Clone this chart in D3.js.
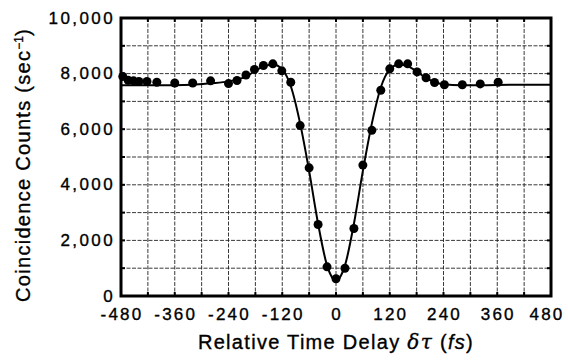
<!DOCTYPE html>
<html>
<head>
<meta charset="utf-8">
<script src="https://cdn.jsdelivr.net/npm/d3@7"></script>
<style>
  body { margin: 0; background: #fff; }
  text { font-family: "Liberation Sans", Arial, Helvetica, sans-serif; fill: #000; stroke: #000; stroke-width: 0.35px; }
</style>
</head>
<body>
<svg id="chart" width="568" height="361"></svg>
<script>
// measured points (delay in fs, coincidence counts per sec)
const pointDelay = [-476, -464, -452, -440, -422, -400, -360, -320, -280, -240, -221, -201, -182, -162, -141, -121, -101, -80, -60, -40, -20, 0, 20, 40, 60, 80, 100, 120, 140, 160, 181, 201, 220, 242, 282, 322, 362];
const pointCounts = [7900, 7760, 7740, 7720, 7720, 7690, 7660, 7660, 7740, 7640, 7750, 7950, 8150, 8290, 8350, 8100, 7690, 6130, 4610, 2570, 1050, 620, 1000, 2430, 4710, 5960, 7400, 8170, 8350, 8350, 8060, 7850, 7680, 7600, 7600, 7630, 7690];

// fitted curve
const curveDelay = [-480, -400, -320, -280, -240, -200, -180, -160, -140, -120, -100, -80, -60, -40, -20, 0, 20, 40, 60, 80, 100, 120, 140, 160, 180, 200, 220, 240, 280, 320, 400, 480];
const curveCounts = [7580, 7580, 7600, 7650, 7720, 7900, 8100, 8270, 8330, 8150, 7500, 6200, 4500, 2600, 1100, 550, 1100, 2600, 4500, 6200, 7500, 8150, 8330, 8270, 8080, 7850, 7700, 7620, 7580, 7580, 7600, 7600];

const xTicks = [-480, -360, -240, -120, 0, 120, 240, 360, 480];
const yTicks = [0, 2000, 4000, 6000, 8000, 10000];
const xGrid = [-420, -360, -300, -240, -180, -120, -60, 0, 60, 120, 180, 240, 300, 360, 420];
const yGrid = [1000, 2000, 3000, 4000, 5000, 6000, 7000, 8000, 9000];

const frame = {left: 121, right: 551, top: 18, bottom: 296};

let svg = d3.select("svg#chart");

let x = d3.scaleLinear().domain([-480, 480]).range([frame.left, frame.right]);
let y = d3.scaleLinear().domain([0, 10000]).range([frame.bottom, frame.top]);

// grid
svg.append("g").selectAll("line")
  .data(xGrid)
  .enter()
  .append("line")
  .attr("x1", function(d) { return x(d); })
  .attr("x2", function(d) { return x(d); })
  .attr("y1", frame.top)
  .attr("y2", frame.bottom)
  .attr("stroke", "#222")
  .attr("stroke-width", 0.9)
  .attr("stroke-dasharray", "4,1.5");

svg.append("g").selectAll("line")
  .data(yGrid)
  .enter()
  .append("line")
  .attr("x1", frame.left)
  .attr("x2", frame.right)
  .attr("y1", function(d) { return y(d); })
  .attr("y2", function(d) { return y(d); })
  .attr("stroke", "#222")
  .attr("stroke-width", 0.9)
  .attr("stroke-dasharray", "4,1.5");

// inward tick marks on all four sides
let tickX = svg.append("g");
tickX.selectAll(".tb")
  .data(xGrid)
  .enter()
  .append("line")
  .attr("x1", function(d) { return x(d); })
  .attr("x2", function(d) { return x(d); })
  .attr("y1", frame.bottom)
  .attr("y2", frame.bottom - 4)
  .attr("stroke", "#000")
  .attr("stroke-width", 2);
tickX.selectAll(".tt")
  .data(xGrid)
  .enter()
  .append("line")
  .attr("x1", function(d) { return x(d); })
  .attr("x2", function(d) { return x(d); })
  .attr("y1", frame.top)
  .attr("y2", frame.top + 4)
  .attr("stroke", "#000")
  .attr("stroke-width", 2);
let tickY = svg.append("g");
tickY.selectAll(".tl")
  .data(yGrid)
  .enter()
  .append("line")
  .attr("x1", frame.left)
  .attr("x2", frame.left + 4)
  .attr("y1", function(d) { return y(d); })
  .attr("y2", function(d) { return y(d); })
  .attr("stroke", "#000")
  .attr("stroke-width", 2);
tickY.selectAll(".tr")
  .data(yGrid)
  .enter()
  .append("line")
  .attr("x1", frame.right)
  .attr("x2", frame.right - 4)
  .attr("y1", function(d) { return y(d); })
  .attr("y2", function(d) { return y(d); })
  .attr("stroke", "#000")
  .attr("stroke-width", 2);

// frame
svg.append("rect")
  .attr("x", frame.left)
  .attr("y", frame.top)
  .attr("width", frame.right - frame.left)
  .attr("height", frame.bottom - frame.top)
  .attr("fill", "none")
  .attr("stroke", "#000")
  .attr("stroke-width", 3);

// tick labels (last one nudged in so it stays on the page)
svg.append("g").selectAll("text")
  .data(xTicks)
  .enter()
  .append("text")
  .attr("x", function(d) { return Math.min(x(d) + 1, 547); })
  .attr("y", frame.bottom + 24)
  .attr("text-anchor", "middle")
  .style("font-size", "17px")
  .style("letter-spacing", "2.2px")
  .text(function(d) { return d; });

svg.append("g").selectAll("text")
  .data(yTicks)
  .enter()
  .append("text")
  .attr("x", frame.left - 6)
  .attr("y", function(d) { return y(d) + 5.5; })
  .attr("text-anchor", "end")
  .style("font-size", "17px")
  .style("letter-spacing", "2.4px")
  .text(function(d) { return d3.format(",")(d); });

// fitted curve
let line = d3.line()
  .x(function(d, i) { return x(curveDelay[i]); })
  .y(function(d) { return y(d); })
  .curve(d3.curveMonotoneX);

svg.append("path")
  .datum(curveCounts)
  .attr("d", line)
  .attr("fill", "none")
  .attr("stroke", "#000")
  .attr("stroke-width", 2);

// measured points
svg.append("g").selectAll("circle")
  .data(pointCounts)
  .enter()
  .append("circle")
  .attr("cx", function(d, i) { return x(pointDelay[i]); })
  .attr("cy", function(d) { return y(d); })
  .attr("r", 4.5)
  .attr("fill", "#000");

// axis titles
let xt = svg.append("text")
  .attr("x", 336)
  .attr("y", 349)
  .attr("text-anchor", "middle")
  .style("font-size", "20px")
  .style("letter-spacing", "1.3px");
xt.append("tspan").text("Relative Time Delay ");
xt.append("tspan").style("font-style", "italic").style("font-family", "'DejaVu Serif', serif").text("δτ");
xt.append("tspan").text(" (");
xt.append("tspan").style("font-style", "italic").text("fs");
xt.append("tspan").text(")");

let yt = svg.append("text")
  .attr("transform", "translate(30," + 165 + ")rotate(-90)")
  .attr("text-anchor", "middle")
  .style("font-size", "20px")
  .style("letter-spacing", "1.3px");
yt.append("tspan").text("Coincidence Counts (sec");
yt.append("tspan").attr("dy", -7).style("font-size", "12px").style("letter-spacing", "0px").text("−1");
yt.append("tspan").attr("dy", 7).text(")");
</script>
</body>
</html>
